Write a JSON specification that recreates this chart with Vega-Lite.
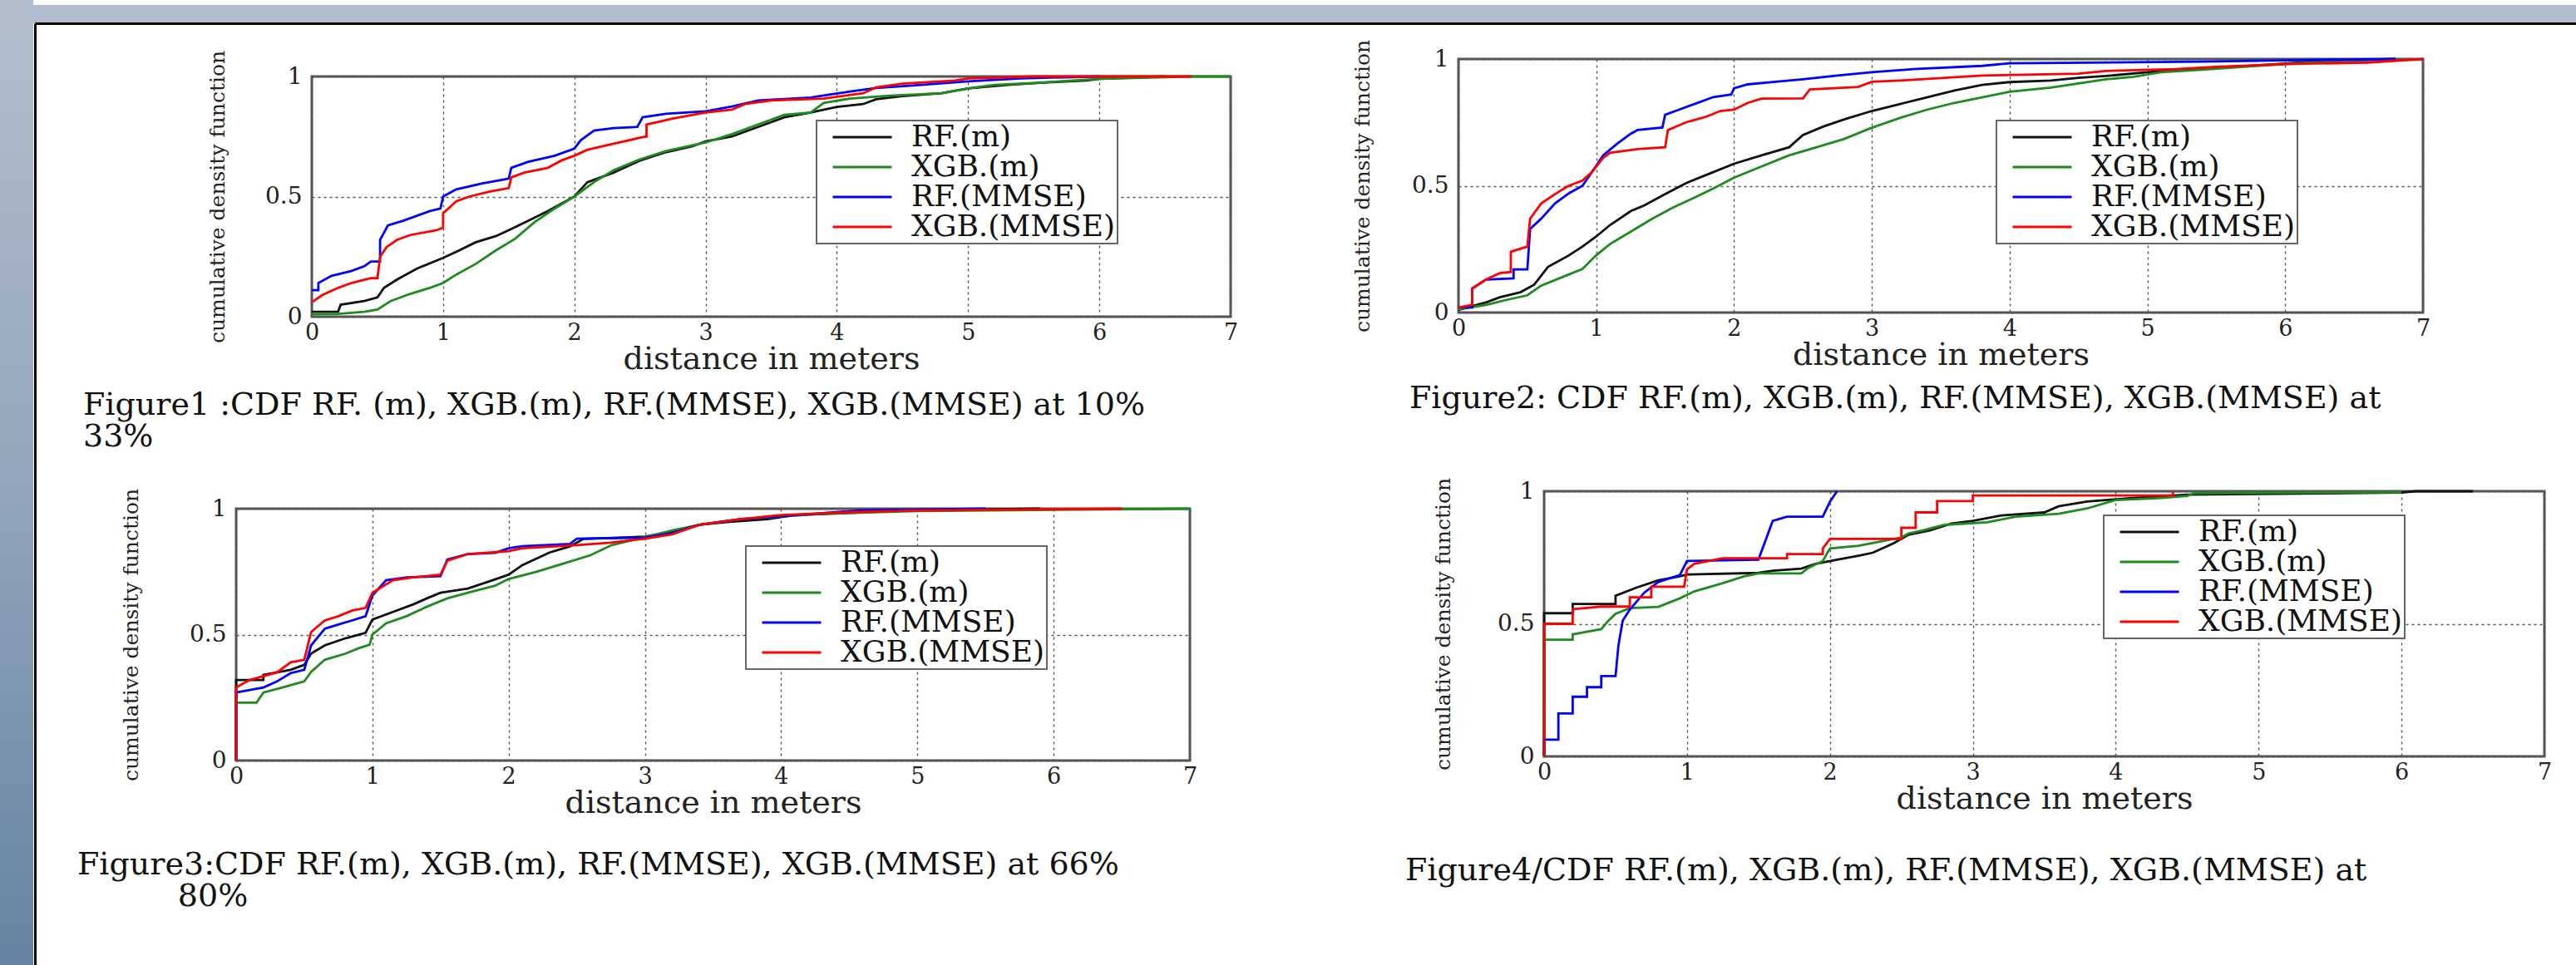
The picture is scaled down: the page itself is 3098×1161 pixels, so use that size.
{
  "$schema": "https://vega.github.io/schema/vega-lite/v6.json",
  "background": "white",
  "padding": 0,
  "datasets": {
    "p1": [
      {"series":"RF.(m)","x":0,"y":0.02},{"series":"RF.(m)","x":0.2,"y":0.02},{"series":"RF.(m)","x":0.22,"y":0.05},{"series":"RF.(m)","x":0.4,"y":0.065},{"series":"RF.(m)","x":0.5,"y":0.08},{"series":"RF.(m)","x":0.55,"y":0.12},{"series":"RF.(m)","x":0.65,"y":0.155},{"series":"RF.(m)","x":0.8,"y":0.2},{"series":"RF.(m)","x":1.0,"y":0.245},{"series":"RF.(m)","x":1.1,"y":0.27},{"series":"RF.(m)","x":1.25,"y":0.31},{"series":"RF.(m)","x":1.4,"y":0.335},{"series":"RF.(m)","x":1.5,"y":0.36},{"series":"RF.(m)","x":1.65,"y":0.4},{"series":"RF.(m)","x":1.8,"y":0.44},{"series":"RF.(m)","x":2.0,"y":0.5},{"series":"RF.(m)","x":2.1,"y":0.56},{"series":"RF.(m)","x":2.3,"y":0.6},{"series":"RF.(m)","x":2.5,"y":0.65},{"series":"RF.(m)","x":2.7,"y":0.685},{"series":"RF.(m)","x":2.9,"y":0.71},{"series":"RF.(m)","x":3.0,"y":0.73},{"series":"RF.(m)","x":3.2,"y":0.75},{"series":"RF.(m)","x":3.4,"y":0.79},{"series":"RF.(m)","x":3.6,"y":0.83},{"series":"RF.(m)","x":3.8,"y":0.85},{"series":"RF.(m)","x":4.0,"y":0.873},{"series":"RF.(m)","x":4.2,"y":0.885},{"series":"RF.(m)","x":4.3,"y":0.905},{"series":"RF.(m)","x":4.5,"y":0.918},{"series":"RF.(m)","x":4.8,"y":0.93},{"series":"RF.(m)","x":5.0,"y":0.95},{"series":"RF.(m)","x":5.3,"y":0.965},{"series":"RF.(m)","x":5.6,"y":0.975},{"series":"RF.(m)","x":5.9,"y":0.983},{"series":"RF.(m)","x":6.0,"y":0.99},{"series":"RF.(m)","x":6.5,"y":1.0},
      {"series":"XGB.(m)","x":0,"y":0.01},{"series":"XGB.(m)","x":0.2,"y":0.012},{"series":"XGB.(m)","x":0.4,"y":0.02},{"series":"XGB.(m)","x":0.5,"y":0.03},{"series":"XGB.(m)","x":0.6,"y":0.065},{"series":"XGB.(m)","x":0.75,"y":0.095},{"series":"XGB.(m)","x":0.9,"y":0.12},{"series":"XGB.(m)","x":1.0,"y":0.14},{"series":"XGB.(m)","x":1.1,"y":0.175},{"series":"XGB.(m)","x":1.25,"y":0.22},{"series":"XGB.(m)","x":1.4,"y":0.275},{"series":"XGB.(m)","x":1.55,"y":0.325},{"series":"XGB.(m)","x":1.7,"y":0.395},{"series":"XGB.(m)","x":1.85,"y":0.45},{"series":"XGB.(m)","x":2.0,"y":0.5},{"series":"XGB.(m)","x":2.15,"y":0.56},{"series":"XGB.(m)","x":2.3,"y":0.61},{"series":"XGB.(m)","x":2.5,"y":0.655},{"series":"XGB.(m)","x":2.7,"y":0.69},{"series":"XGB.(m)","x":3.0,"y":0.725},{"series":"XGB.(m)","x":3.2,"y":0.76},{"series":"XGB.(m)","x":3.4,"y":0.8},{"series":"XGB.(m)","x":3.6,"y":0.84},{"series":"XGB.(m)","x":3.8,"y":0.85},{"series":"XGB.(m)","x":3.9,"y":0.89},{"series":"XGB.(m)","x":4.1,"y":0.908},{"series":"XGB.(m)","x":4.4,"y":0.92},{"series":"XGB.(m)","x":4.8,"y":0.93},{"series":"XGB.(m)","x":5.0,"y":0.95},{"series":"XGB.(m)","x":5.2,"y":0.965},{"series":"XGB.(m)","x":5.5,"y":0.973},{"series":"XGB.(m)","x":5.8,"y":0.983},{"series":"XGB.(m)","x":6.0,"y":0.99},{"series":"XGB.(m)","x":6.7,"y":1.0},{"series":"XGB.(m)","x":7.0,"y":1.0},
      {"series":"RF.(MMSE)","x":0,"y":0.11},{"series":"RF.(MMSE)","x":0.05,"y":0.11},{"series":"RF.(MMSE)","x":0.05,"y":0.14},{"series":"RF.(MMSE)","x":0.15,"y":0.17},{"series":"RF.(MMSE)","x":0.3,"y":0.19},{"series":"RF.(MMSE)","x":0.4,"y":0.21},{"series":"RF.(MMSE)","x":0.45,"y":0.23},{"series":"RF.(MMSE)","x":0.52,"y":0.23},{"series":"RF.(MMSE)","x":0.52,"y":0.32},{"series":"RF.(MMSE)","x":0.58,"y":0.38},{"series":"RF.(MMSE)","x":0.7,"y":0.4},{"series":"RF.(MMSE)","x":0.8,"y":0.42},{"series":"RF.(MMSE)","x":0.9,"y":0.44},{"series":"RF.(MMSE)","x":0.98,"y":0.45},{"series":"RF.(MMSE)","x":1.0,"y":0.5},{"series":"RF.(MMSE)","x":1.1,"y":0.53},{"series":"RF.(MMSE)","x":1.3,"y":0.555},{"series":"RF.(MMSE)","x":1.45,"y":0.57},{"series":"RF.(MMSE)","x":1.5,"y":0.575},{"series":"RF.(MMSE)","x":1.52,"y":0.62},{"series":"RF.(MMSE)","x":1.65,"y":0.645},{"series":"RF.(MMSE)","x":1.85,"y":0.67},{"series":"RF.(MMSE)","x":2.0,"y":0.7},{"series":"RF.(MMSE)","x":2.05,"y":0.735},{"series":"RF.(MMSE)","x":2.15,"y":0.775},{"series":"RF.(MMSE)","x":2.3,"y":0.785},{"series":"RF.(MMSE)","x":2.48,"y":0.79},{"series":"RF.(MMSE)","x":2.52,"y":0.83},{"series":"RF.(MMSE)","x":2.7,"y":0.845},{"series":"RF.(MMSE)","x":3.0,"y":0.855},{"series":"RF.(MMSE)","x":3.2,"y":0.875},{"series":"RF.(MMSE)","x":3.4,"y":0.9},{"series":"RF.(MMSE)","x":3.8,"y":0.912},{"series":"RF.(MMSE)","x":3.95,"y":0.925},{"series":"RF.(MMSE)","x":4.1,"y":0.937},{"series":"RF.(MMSE)","x":4.3,"y":0.952},{"series":"RF.(MMSE)","x":4.6,"y":0.963},{"series":"RF.(MMSE)","x":5.0,"y":0.98},{"series":"RF.(MMSE)","x":5.4,"y":0.992},{"series":"RF.(MMSE)","x":6.0,"y":1.0},
      {"series":"XGB.(MMSE)","x":0,"y":0.06},{"series":"XGB.(MMSE)","x":0.08,"y":0.09},{"series":"XGB.(MMSE)","x":0.2,"y":0.12},{"series":"XGB.(MMSE)","x":0.3,"y":0.14},{"series":"XGB.(MMSE)","x":0.45,"y":0.16},{"series":"XGB.(MMSE)","x":0.5,"y":0.16},{"series":"XGB.(MMSE)","x":0.52,"y":0.25},{"series":"XGB.(MMSE)","x":0.57,"y":0.29},{"series":"XGB.(MMSE)","x":0.65,"y":0.32},{"series":"XGB.(MMSE)","x":0.75,"y":0.34},{"series":"XGB.(MMSE)","x":0.95,"y":0.36},{"series":"XGB.(MMSE)","x":1.0,"y":0.37},{"series":"XGB.(MMSE)","x":1.0,"y":0.43},{"series":"XGB.(MMSE)","x":1.1,"y":0.48},{"series":"XGB.(MMSE)","x":1.2,"y":0.5},{"series":"XGB.(MMSE)","x":1.35,"y":0.52},{"series":"XGB.(MMSE)","x":1.5,"y":0.535},{"series":"XGB.(MMSE)","x":1.52,"y":0.58},{"series":"XGB.(MMSE)","x":1.62,"y":0.6},{"series":"XGB.(MMSE)","x":1.8,"y":0.62},{"series":"XGB.(MMSE)","x":1.9,"y":0.65},{"series":"XGB.(MMSE)","x":2.0,"y":0.67},{"series":"XGB.(MMSE)","x":2.1,"y":0.695},{"series":"XGB.(MMSE)","x":2.3,"y":0.72},{"series":"XGB.(MMSE)","x":2.5,"y":0.745},{"series":"XGB.(MMSE)","x":2.55,"y":0.75},{"series":"XGB.(MMSE)","x":2.55,"y":0.8},{"series":"XGB.(MMSE)","x":2.75,"y":0.825},{"series":"XGB.(MMSE)","x":3.0,"y":0.85},{"series":"XGB.(MMSE)","x":3.2,"y":0.862},{"series":"XGB.(MMSE)","x":3.3,"y":0.885},{"series":"XGB.(MMSE)","x":3.5,"y":0.9},{"series":"XGB.(MMSE)","x":3.9,"y":0.908},{"series":"XGB.(MMSE)","x":4.2,"y":0.93},{"series":"XGB.(MMSE)","x":4.3,"y":0.955},{"series":"XGB.(MMSE)","x":4.5,"y":0.97},{"series":"XGB.(MMSE)","x":4.9,"y":0.983},{"series":"XGB.(MMSE)","x":5.0,"y":0.992},{"series":"XGB.(MMSE)","x":5.5,"y":1.0},{"series":"XGB.(MMSE)","x":6.7,"y":1.0}
    ],
    "p2": [
      {"series":"RF.(m)","x":0,"y":0.01},{"series":"RF.(m)","x":0.2,"y":0.04},{"series":"RF.(m)","x":0.3,"y":0.06},{"series":"RF.(m)","x":0.45,"y":0.08},{"series":"RF.(m)","x":0.55,"y":0.11},{"series":"RF.(m)","x":0.65,"y":0.18},{"series":"RF.(m)","x":0.8,"y":0.225},{"series":"RF.(m)","x":0.9,"y":0.26},{"series":"RF.(m)","x":1.0,"y":0.3},{"series":"RF.(m)","x":1.1,"y":0.345},{"series":"RF.(m)","x":1.25,"y":0.4},{"series":"RF.(m)","x":1.35,"y":0.423},{"series":"RF.(m)","x":1.5,"y":0.467},{"series":"RF.(m)","x":1.65,"y":0.51},{"series":"RF.(m)","x":1.8,"y":0.543},{"series":"RF.(m)","x":2.0,"y":0.587},{"series":"RF.(m)","x":2.2,"y":0.62},{"series":"RF.(m)","x":2.4,"y":0.652},{"series":"RF.(m)","x":2.5,"y":0.7},{"series":"RF.(m)","x":2.65,"y":0.734},{"series":"RF.(m)","x":2.8,"y":0.762},{"series":"RF.(m)","x":3.0,"y":0.795},{"series":"RF.(m)","x":3.2,"y":0.822},{"series":"RF.(m)","x":3.4,"y":0.849},{"series":"RF.(m)","x":3.6,"y":0.876},{"series":"RF.(m)","x":3.8,"y":0.898},{"series":"RF.(m)","x":4.0,"y":0.909},{"series":"RF.(m)","x":4.3,"y":0.915},{"series":"RF.(m)","x":4.5,"y":0.926},{"series":"RF.(m)","x":4.7,"y":0.933},{"series":"RF.(m)","x":5.0,"y":0.948},{"series":"RF.(m)","x":5.3,"y":0.96},{"series":"RF.(m)","x":5.7,"y":0.972},{"series":"RF.(m)","x":6.0,"y":0.982},{"series":"RF.(m)","x":6.2,"y":0.99},{"series":"RF.(m)","x":6.8,"y":1.0},
      {"series":"XGB.(m)","x":0,"y":0.013},{"series":"XGB.(m)","x":0.2,"y":0.03},{"series":"XGB.(m)","x":0.35,"y":0.05},{"series":"XGB.(m)","x":0.5,"y":0.068},{"series":"XGB.(m)","x":0.6,"y":0.106},{"series":"XGB.(m)","x":0.75,"y":0.139},{"series":"XGB.(m)","x":0.9,"y":0.172},{"series":"XGB.(m)","x":1.0,"y":0.226},{"series":"XGB.(m)","x":1.1,"y":0.27},{"series":"XGB.(m)","x":1.25,"y":0.319},{"series":"XGB.(m)","x":1.4,"y":0.368},{"series":"XGB.(m)","x":1.55,"y":0.412},{"series":"XGB.(m)","x":1.7,"y":0.45},{"series":"XGB.(m)","x":1.85,"y":0.489},{"series":"XGB.(m)","x":2.0,"y":0.532},{"series":"XGB.(m)","x":2.2,"y":0.576},{"series":"XGB.(m)","x":2.4,"y":0.62},{"series":"XGB.(m)","x":2.6,"y":0.652},{"series":"XGB.(m)","x":2.8,"y":0.685},{"series":"XGB.(m)","x":3.0,"y":0.729},{"series":"XGB.(m)","x":3.2,"y":0.767},{"series":"XGB.(m)","x":3.4,"y":0.8},{"series":"XGB.(m)","x":3.6,"y":0.827},{"series":"XGB.(m)","x":3.8,"y":0.849},{"series":"XGB.(m)","x":4.0,"y":0.871},{"series":"XGB.(m)","x":4.3,"y":0.887},{"series":"XGB.(m)","x":4.5,"y":0.904},{"series":"XGB.(m)","x":4.7,"y":0.92},{"series":"XGB.(m)","x":4.9,"y":0.93},{"series":"XGB.(m)","x":5.1,"y":0.948},{"series":"XGB.(m)","x":5.4,"y":0.958},{"series":"XGB.(m)","x":5.7,"y":0.969},{"series":"XGB.(m)","x":6.0,"y":0.98},{"series":"XGB.(m)","x":6.3,"y":0.99},{"series":"XGB.(m)","x":6.8,"y":1.0},
      {"series":"RF.(MMSE)","x":0,"y":0.02},{"series":"RF.(MMSE)","x":0.1,"y":0.02},{"series":"RF.(MMSE)","x":0.1,"y":0.095},{"series":"RF.(MMSE)","x":0.2,"y":0.13},{"series":"RF.(MMSE)","x":0.4,"y":0.135},{"series":"RF.(MMSE)","x":0.4,"y":0.17},{"series":"RF.(MMSE)","x":0.5,"y":0.17},{"series":"RF.(MMSE)","x":0.52,"y":0.33},{"series":"RF.(MMSE)","x":0.6,"y":0.37},{"series":"RF.(MMSE)","x":0.7,"y":0.43},{"series":"RF.(MMSE)","x":0.8,"y":0.47},{"series":"RF.(MMSE)","x":0.9,"y":0.5},{"series":"RF.(MMSE)","x":0.97,"y":0.555},{"series":"RF.(MMSE)","x":1.05,"y":0.62},{"series":"RF.(MMSE)","x":1.15,"y":0.665},{"series":"RF.(MMSE)","x":1.25,"y":0.705},{"series":"RF.(MMSE)","x":1.3,"y":0.72},{"series":"RF.(MMSE)","x":1.48,"y":0.73},{"series":"RF.(MMSE)","x":1.5,"y":0.78},{"series":"RF.(MMSE)","x":1.6,"y":0.8},{"series":"RF.(MMSE)","x":1.75,"y":0.83},{"series":"RF.(MMSE)","x":1.85,"y":0.85},{"series":"RF.(MMSE)","x":1.98,"y":0.86},{"series":"RF.(MMSE)","x":2.0,"y":0.885},{"series":"RF.(MMSE)","x":2.1,"y":0.9},{"series":"RF.(MMSE)","x":2.3,"y":0.91},{"series":"RF.(MMSE)","x":2.5,"y":0.92},{"series":"RF.(MMSE)","x":2.75,"y":0.935},{"series":"RF.(MMSE)","x":3.0,"y":0.948},{"series":"RF.(MMSE)","x":3.3,"y":0.96},{"series":"RF.(MMSE)","x":3.8,"y":0.973},{"series":"RF.(MMSE)","x":4.0,"y":0.983},{"series":"RF.(MMSE)","x":5.4,"y":0.99},{"series":"RF.(MMSE)","x":6.0,"y":0.995},{"series":"RF.(MMSE)","x":6.8,"y":1.0},
      {"series":"XGB.(MMSE)","x":0,"y":0.02},{"series":"XGB.(MMSE)","x":0.1,"y":0.03},{"series":"XGB.(MMSE)","x":0.1,"y":0.095},{"series":"XGB.(MMSE)","x":0.2,"y":0.13},{"series":"XGB.(MMSE)","x":0.3,"y":0.155},{"series":"XGB.(MMSE)","x":0.38,"y":0.16},{"series":"XGB.(MMSE)","x":0.38,"y":0.24},{"series":"XGB.(MMSE)","x":0.5,"y":0.26},{"series":"XGB.(MMSE)","x":0.52,"y":0.37},{"series":"XGB.(MMSE)","x":0.6,"y":0.43},{"series":"XGB.(MMSE)","x":0.7,"y":0.467},{"series":"XGB.(MMSE)","x":0.8,"y":0.5},{"series":"XGB.(MMSE)","x":0.9,"y":0.52},{"series":"XGB.(MMSE)","x":0.97,"y":0.555},{"series":"XGB.(MMSE)","x":1.05,"y":0.61},{"series":"XGB.(MMSE)","x":1.1,"y":0.63},{"series":"XGB.(MMSE)","x":1.3,"y":0.645},{"series":"XGB.(MMSE)","x":1.5,"y":0.652},{"series":"XGB.(MMSE)","x":1.52,"y":0.72},{"series":"XGB.(MMSE)","x":1.65,"y":0.75},{"series":"XGB.(MMSE)","x":1.8,"y":0.773},{"series":"XGB.(MMSE)","x":1.9,"y":0.795},{"series":"XGB.(MMSE)","x":2.0,"y":0.8},{"series":"XGB.(MMSE)","x":2.1,"y":0.827},{"series":"XGB.(MMSE)","x":2.2,"y":0.844},{"series":"XGB.(MMSE)","x":2.5,"y":0.845},{"series":"XGB.(MMSE)","x":2.55,"y":0.88},{"series":"XGB.(MMSE)","x":2.9,"y":0.89},{"series":"XGB.(MMSE)","x":3.0,"y":0.91},{"series":"XGB.(MMSE)","x":3.2,"y":0.915},{"series":"XGB.(MMSE)","x":3.8,"y":0.935},{"series":"XGB.(MMSE)","x":4.5,"y":0.942},{"series":"XGB.(MMSE)","x":4.7,"y":0.953},{"series":"XGB.(MMSE)","x":5.2,"y":0.96},{"series":"XGB.(MMSE)","x":5.5,"y":0.969},{"series":"XGB.(MMSE)","x":6.0,"y":0.98},{"series":"XGB.(MMSE)","x":6.6,"y":0.986},{"series":"XGB.(MMSE)","x":7.0,"y":1.0}
    ],
    "p3": [
      {"series":"RF.(m)","x":0,"y":0},{"series":"RF.(m)","x":0,"y":0.32},{"series":"RF.(m)","x":0.2,"y":0.32},{"series":"RF.(m)","x":0.2,"y":0.34},{"series":"RF.(m)","x":0.4,"y":0.36},{"series":"RF.(m)","x":0.5,"y":0.38},{"series":"RF.(m)","x":0.55,"y":0.425},{"series":"RF.(m)","x":0.65,"y":0.457},{"series":"RF.(m)","x":0.8,"y":0.485},{"series":"RF.(m)","x":0.95,"y":0.507},{"series":"RF.(m)","x":1.0,"y":0.56},{"series":"RF.(m)","x":1.15,"y":0.59},{"series":"RF.(m)","x":1.3,"y":0.62},{"series":"RF.(m)","x":1.4,"y":0.644},{"series":"RF.(m)","x":1.5,"y":0.666},{"series":"RF.(m)","x":1.7,"y":0.683},{"series":"RF.(m)","x":1.85,"y":0.71},{"series":"RF.(m)","x":2.0,"y":0.738},{"series":"RF.(m)","x":2.1,"y":0.776},{"series":"RF.(m)","x":2.3,"y":0.826},{"series":"RF.(m)","x":2.45,"y":0.85},{"series":"RF.(m)","x":2.55,"y":0.88},{"series":"RF.(m)","x":3.0,"y":0.889},{"series":"RF.(m)","x":3.2,"y":0.909},{"series":"RF.(m)","x":3.4,"y":0.936},{"series":"RF.(m)","x":3.6,"y":0.947},{"series":"RF.(m)","x":3.9,"y":0.958},{"series":"RF.(m)","x":4.1,"y":0.975},{"series":"RF.(m)","x":4.5,"y":0.983},{"series":"RF.(m)","x":4.8,"y":0.991},{"series":"RF.(m)","x":5.9,"y":1.0},
      {"series":"XGB.(m)","x":0,"y":0},{"series":"XGB.(m)","x":0,"y":0.23},{"series":"XGB.(m)","x":0.15,"y":0.23},{"series":"XGB.(m)","x":0.2,"y":0.27},{"series":"XGB.(m)","x":0.35,"y":0.292},{"series":"XGB.(m)","x":0.5,"y":0.314},{"series":"XGB.(m)","x":0.55,"y":0.352},{"series":"XGB.(m)","x":0.65,"y":0.4},{"series":"XGB.(m)","x":0.8,"y":0.424},{"series":"XGB.(m)","x":0.9,"y":0.446},{"series":"XGB.(m)","x":0.98,"y":0.46},{"series":"XGB.(m)","x":1.0,"y":0.5},{"series":"XGB.(m)","x":1.1,"y":0.545},{"series":"XGB.(m)","x":1.25,"y":0.573},{"series":"XGB.(m)","x":1.4,"y":0.611},{"series":"XGB.(m)","x":1.55,"y":0.644},{"series":"XGB.(m)","x":1.7,"y":0.666},{"series":"XGB.(m)","x":1.9,"y":0.694},{"series":"XGB.(m)","x":2.0,"y":0.721},{"series":"XGB.(m)","x":2.2,"y":0.749},{"series":"XGB.(m)","x":2.4,"y":0.782},{"series":"XGB.(m)","x":2.6,"y":0.815},{"series":"XGB.(m)","x":2.75,"y":0.854},{"series":"XGB.(m)","x":3.0,"y":0.887},{"series":"XGB.(m)","x":3.2,"y":0.914},{"series":"XGB.(m)","x":3.4,"y":0.936},{"series":"XGB.(m)","x":3.7,"y":0.958},{"series":"XGB.(m)","x":4.0,"y":0.969},{"series":"XGB.(m)","x":4.3,"y":0.98},{"series":"XGB.(m)","x":5.0,"y":0.991},{"series":"XGB.(m)","x":7.0,"y":1.0},
      {"series":"RF.(MMSE)","x":0,"y":0},{"series":"RF.(MMSE)","x":0,"y":0.27},{"series":"RF.(MMSE)","x":0.2,"y":0.29},{"series":"RF.(MMSE)","x":0.3,"y":0.314},{"series":"RF.(MMSE)","x":0.4,"y":0.347},{"series":"RF.(MMSE)","x":0.5,"y":0.36},{"series":"RF.(MMSE)","x":0.55,"y":0.457},{"series":"RF.(MMSE)","x":0.65,"y":0.523},{"series":"RF.(MMSE)","x":0.75,"y":0.54},{"series":"RF.(MMSE)","x":0.85,"y":0.556},{"series":"RF.(MMSE)","x":0.95,"y":0.573},{"series":"RF.(MMSE)","x":1.0,"y":0.655},{"series":"RF.(MMSE)","x":1.1,"y":0.716},{"series":"RF.(MMSE)","x":1.25,"y":0.727},{"series":"RF.(MMSE)","x":1.5,"y":0.732},{"series":"RF.(MMSE)","x":1.55,"y":0.798},{"series":"RF.(MMSE)","x":1.7,"y":0.82},{"series":"RF.(MMSE)","x":1.9,"y":0.825},{"series":"RF.(MMSE)","x":2.0,"y":0.843},{"series":"RF.(MMSE)","x":2.1,"y":0.851},{"series":"RF.(MMSE)","x":2.45,"y":0.86},{"series":"RF.(MMSE)","x":2.5,"y":0.881},{"series":"RF.(MMSE)","x":3.0,"y":0.885},{"series":"RF.(MMSE)","x":3.2,"y":0.903},{"series":"RF.(MMSE)","x":3.4,"y":0.936},{"series":"RF.(MMSE)","x":3.7,"y":0.958},{"series":"RF.(MMSE)","x":4.0,"y":0.97},{"series":"RF.(MMSE)","x":4.6,"y":0.994},{"series":"RF.(MMSE)","x":5.5,"y":1.0},
      {"series":"XGB.(MMSE)","x":0,"y":0},{"series":"XGB.(MMSE)","x":0,"y":0.29},{"series":"XGB.(MMSE)","x":0.1,"y":0.32},{"series":"XGB.(MMSE)","x":0.3,"y":0.35},{"series":"XGB.(MMSE)","x":0.4,"y":0.39},{"series":"XGB.(MMSE)","x":0.5,"y":0.4},{"series":"XGB.(MMSE)","x":0.55,"y":0.51},{"series":"XGB.(MMSE)","x":0.65,"y":0.556},{"series":"XGB.(MMSE)","x":0.75,"y":0.573},{"series":"XGB.(MMSE)","x":0.85,"y":0.595},{"series":"XGB.(MMSE)","x":0.95,"y":0.606},{"series":"XGB.(MMSE)","x":1.0,"y":0.666},{"series":"XGB.(MMSE)","x":1.15,"y":0.716},{"series":"XGB.(MMSE)","x":1.3,"y":0.727},{"series":"XGB.(MMSE)","x":1.5,"y":0.738},{"series":"XGB.(MMSE)","x":1.55,"y":0.793},{"series":"XGB.(MMSE)","x":1.7,"y":0.82},{"series":"XGB.(MMSE)","x":2.0,"y":0.831},{"series":"XGB.(MMSE)","x":2.1,"y":0.843},{"series":"XGB.(MMSE)","x":2.5,"y":0.855},{"series":"XGB.(MMSE)","x":2.75,"y":0.865},{"series":"XGB.(MMSE)","x":3.0,"y":0.881},{"series":"XGB.(MMSE)","x":3.2,"y":0.898},{"series":"XGB.(MMSE)","x":3.4,"y":0.936},{"series":"XGB.(MMSE)","x":3.7,"y":0.958},{"series":"XGB.(MMSE)","x":4.0,"y":0.975},{"series":"XGB.(MMSE)","x":4.5,"y":0.986},{"series":"XGB.(MMSE)","x":5.0,"y":0.993},{"series":"XGB.(MMSE)","x":6.5,"y":1.0}
    ],
    "p4": [
      {"series":"RF.(m)","x":0,"y":0},{"series":"RF.(m)","x":0,"y":0.54},{"series":"RF.(m)","x":0.2,"y":0.54},{"series":"RF.(m)","x":0.2,"y":0.575},{"series":"RF.(m)","x":0.5,"y":0.575},{"series":"RF.(m)","x":0.5,"y":0.606},{"series":"RF.(m)","x":0.65,"y":0.637},{"series":"RF.(m)","x":0.8,"y":0.664},{"series":"RF.(m)","x":0.95,"y":0.679},{"series":"RF.(m)","x":1.0,"y":0.686},{"series":"RF.(m)","x":1.5,"y":0.692},{"series":"RF.(m)","x":1.6,"y":0.7},{"series":"RF.(m)","x":1.8,"y":0.708},{"series":"RF.(m)","x":1.9,"y":0.726},{"series":"RF.(m)","x":2.05,"y":0.742},{"series":"RF.(m)","x":2.2,"y":0.757},{"series":"RF.(m)","x":2.3,"y":0.768},{"series":"RF.(m)","x":2.45,"y":0.805},{"series":"RF.(m)","x":2.55,"y":0.836},{"series":"RF.(m)","x":2.7,"y":0.852},{"series":"RF.(m)","x":2.85,"y":0.878},{"series":"RF.(m)","x":3.0,"y":0.888},{"series":"RF.(m)","x":3.2,"y":0.909},{"series":"RF.(m)","x":3.5,"y":0.92},{"series":"RF.(m)","x":3.6,"y":0.943},{"series":"RF.(m)","x":3.8,"y":0.961},{"series":"RF.(m)","x":4.1,"y":0.974},{"series":"RF.(m)","x":4.5,"y":0.987},{"series":"RF.(m)","x":6.0,"y":0.995},{"series":"RF.(m)","x":6.1,"y":1.0},{"series":"RF.(m)","x":6.5,"y":1.0},
      {"series":"XGB.(m)","x":0,"y":0},{"series":"XGB.(m)","x":0,"y":0.44},{"series":"XGB.(m)","x":0.2,"y":0.44},{"series":"XGB.(m)","x":0.2,"y":0.46},{"series":"XGB.(m)","x":0.4,"y":0.48},{"series":"XGB.(m)","x":0.45,"y":0.512},{"series":"XGB.(m)","x":0.5,"y":0.538},{"series":"XGB.(m)","x":0.6,"y":0.559},{"series":"XGB.(m)","x":0.8,"y":0.564},{"series":"XGB.(m)","x":0.95,"y":0.596},{"series":"XGB.(m)","x":1.05,"y":0.622},{"series":"XGB.(m)","x":1.25,"y":0.653},{"series":"XGB.(m)","x":1.4,"y":0.679},{"series":"XGB.(m)","x":1.5,"y":0.69},{"series":"XGB.(m)","x":1.8,"y":0.69},{"series":"XGB.(m)","x":1.85,"y":0.711},{"series":"XGB.(m)","x":1.95,"y":0.737},{"series":"XGB.(m)","x":2.0,"y":0.784},{"series":"XGB.(m)","x":2.2,"y":0.794},{"series":"XGB.(m)","x":2.35,"y":0.81},{"series":"XGB.(m)","x":2.5,"y":0.826},{"series":"XGB.(m)","x":2.55,"y":0.841},{"series":"XGB.(m)","x":2.65,"y":0.852},{"series":"XGB.(m)","x":2.8,"y":0.873},{"series":"XGB.(m)","x":3.1,"y":0.883},{"series":"XGB.(m)","x":3.3,"y":0.904},{"series":"XGB.(m)","x":3.6,"y":0.915},{"series":"XGB.(m)","x":3.8,"y":0.935},{"series":"XGB.(m)","x":4.0,"y":0.967},{"series":"XGB.(m)","x":4.3,"y":0.974},{"series":"XGB.(m)","x":4.5,"y":0.982},{"series":"XGB.(m)","x":4.55,"y":0.993},{"series":"XGB.(m)","x":6.0,"y":0.996},
      {"series":"RF.(MMSE)","x":0,"y":0},{"series":"RF.(MMSE)","x":0,"y":0.063},{"series":"RF.(MMSE)","x":0.1,"y":0.063},{"series":"RF.(MMSE)","x":0.1,"y":0.162},{"series":"RF.(MMSE)","x":0.2,"y":0.162},{"series":"RF.(MMSE)","x":0.2,"y":0.225},{"series":"RF.(MMSE)","x":0.3,"y":0.225},{"series":"RF.(MMSE)","x":0.3,"y":0.261},{"series":"RF.(MMSE)","x":0.4,"y":0.261},{"series":"RF.(MMSE)","x":0.4,"y":0.303},{"series":"RF.(MMSE)","x":0.5,"y":0.303},{"series":"RF.(MMSE)","x":0.52,"y":0.418},{"series":"RF.(MMSE)","x":0.55,"y":0.512},{"series":"RF.(MMSE)","x":0.6,"y":0.554},{"series":"RF.(MMSE)","x":0.7,"y":0.617},{"series":"RF.(MMSE)","x":0.8,"y":0.658},{"series":"RF.(MMSE)","x":0.95,"y":0.684},{"series":"RF.(MMSE)","x":1.0,"y":0.737},{"series":"RF.(MMSE)","x":1.5,"y":0.742},{"series":"RF.(MMSE)","x":1.55,"y":0.815},{"series":"RF.(MMSE)","x":1.6,"y":0.888},{"series":"RF.(MMSE)","x":1.7,"y":0.904},{"series":"RF.(MMSE)","x":1.95,"y":0.904},{"series":"RF.(MMSE)","x":2.0,"y":0.96},{"series":"RF.(MMSE)","x":2.05,"y":1.0},
      {"series":"XGB.(MMSE)","x":0,"y":0},{"series":"XGB.(MMSE)","x":0,"y":0.5},{"series":"XGB.(MMSE)","x":0.2,"y":0.5},{"series":"XGB.(MMSE)","x":0.2,"y":0.555},{"series":"XGB.(MMSE)","x":0.4,"y":0.565},{"series":"XGB.(MMSE)","x":0.6,"y":0.565},{"series":"XGB.(MMSE)","x":0.6,"y":0.6},{"series":"XGB.(MMSE)","x":0.75,"y":0.6},{"series":"XGB.(MMSE)","x":0.75,"y":0.64},{"series":"XGB.(MMSE)","x":0.98,"y":0.64},{"series":"XGB.(MMSE)","x":1.0,"y":0.705},{"series":"XGB.(MMSE)","x":1.05,"y":0.726},{"series":"XGB.(MMSE)","x":1.25,"y":0.747},{"series":"XGB.(MMSE)","x":1.7,"y":0.747},{"series":"XGB.(MMSE)","x":1.7,"y":0.763},{"series":"XGB.(MMSE)","x":1.95,"y":0.763},{"series":"XGB.(MMSE)","x":1.95,"y":0.784},{"series":"XGB.(MMSE)","x":2.0,"y":0.82},{"series":"XGB.(MMSE)","x":2.5,"y":0.82},{"series":"XGB.(MMSE)","x":2.5,"y":0.862},{"series":"XGB.(MMSE)","x":2.6,"y":0.862},{"series":"XGB.(MMSE)","x":2.6,"y":0.92},{"series":"XGB.(MMSE)","x":2.75,"y":0.92},{"series":"XGB.(MMSE)","x":2.75,"y":0.963},{"series":"XGB.(MMSE)","x":3.0,"y":0.963},{"series":"XGB.(MMSE)","x":3.0,"y":0.984},{"series":"XGB.(MMSE)","x":4.4,"y":0.984},{"series":"XGB.(MMSE)","x":4.4,"y":1.0}
    ]
  },
  "config": {
    "view": {"stroke": null},
    "font": "DejaVu Serif",
    "axis": {"labelFont": "DejaVu Serif", "labelColor": "#222222", "labelFlush": false, "labelOverlap": false, "titleFont": "DejaVu Serif", "titleFontWeight": "normal", "titleColor": "#222222", "domain": false, "ticks": false, "grid": true, "gridColor": "#555555", "gridDash": [3, 4], "gridWidth": 1.4, "gridOpacity": 1},
    "axisX": {"labelPadding": 6, "labelFontSize": 27, "titleFontSize": 38, "titlePadding": 0},
    "axisY": {"labelPadding": 12, "labelFontSize": 28, "titleFontSize": 25},
    "legend": {"symbolType": "stroke", "symbolSize": 5041, "symbolStrokeWidth": 3, "labelFont": "DejaVu Serif", "labelFontSize": 36, "labelColor": "#111111", "clipHeight": 36, "rowPadding": 0, "padding": 2, "strokeColor": "#666666", "strokeWidth": 2, "fillColor": "white", "labelOffset": 22, "symbolOffset": 16, "labelLimit": 1000}
  },
  "bounds": "flush",
  "spacing": 0,
  "resolve": {"scale": {"color": "independent"}, "legend": {"color": "independent"}},
  "hconcat": [
    {"width": 40, "height": 1161, "data": {"values": []}, "mark": "point",
     "view": {"stroke": null, "fill": {"gradient": "linear", "x1": 0, "y1": 0, "x2": 0, "y2": 1, "stops": [{"offset": 0, "color": "#b3bfcd"}, {"offset": 0.5, "color": "#93a6bb"}, {"offset": 1, "color": "#6583a2"}]}}},
    {"bounds": "flush", "spacing": 0,
     "resolve": {"scale": {"color": "independent"}, "legend": {"color": "independent"}},
     "vconcat": [
      {"width": 3058, "height": 6, "data": {"values": []}, "mark": "point"},
      {"width": 3058, "height": 22, "data": {"values": []}, "mark": "point", "view": {"stroke": null, "fill": "#b1bdcc"}},
      {"bounds": "flush", "spacing": 0,
       "resolve": {"scale": {"color": "independent"}, "legend": {"color": "independent"}},
       "hconcat": [
        {"bounds": "flush", "spacing": 0, "hconcat": [
          {"width": 2, "height": 1, "data": {"values": []}, "mark": "point"},
          {"width": 3056, "height": 1133, "data": {"values": []}, "mark": "point",
           "encoding": {
             "x": {"field": "x", "type": "quantitative", "scale": {"domain": [0, 1]}, "axis": {"orient": "top", "domain": true, "domainColor": "#000000", "domainWidth": 3, "ticks": false, "labels": false, "grid": false, "title": null}},
             "y": {"field": "y", "type": "quantitative", "scale": {"domain": [0, 1]}, "axis": {"orient": "left", "domain": true, "domainColor": "#000000", "domainWidth": 3, "ticks": false, "labels": false, "grid": false, "title": null}}
           }}
        ]},
        {"bounds": "flush", "spacing": 0,
         "resolve": {"scale": {"color": "independent"}, "legend": {"color": "independent"}},
         "vconcat": [
          {"width": 1, "height": 64, "data": {"values": []}, "mark": "point"},
          {"bounds": "flush", "spacing": 0,
           "resolve": {"scale": {"color": "independent"}, "legend": {"color": "independent"}},
           "hconcat": [
            {"width": 335, "height": 1, "data": {"values": []}, "mark": "point"},
            {"width": 1105, "height": 289, "data": {"name": "p1"},
             "view": {"stroke": "#555555", "strokeWidth": 3},
             "title": {"text": ["Figure1 :CDF RF. (m), XGB.(m), RF.(MMSE), XGB.(MMSE) at 10%", "33%"], "orient": "bottom", "anchor": "start", "frame": "group", "align": "left", "dx": -275, "offset": 18, "font": "DejaVu Serif", "fontSize": 38, "fontWeight": "normal", "color": "#111111", "lineHeight": 38},
             "mark": {"type": "line", "strokeWidth": 2.8},
             "encoding": {
               "x": {"field": "x", "type": "quantitative", "scale": {"domain": [0, 7], "nice": false, "zero": false}, "axis": {"title": "distance in meters", "values": [0,1,2,3,4,5,6,7], "format": "d"}},
               "y": {"field": "y", "type": "quantitative", "scale": {"domain": [0, 1], "nice": false}, "axis": {"title": "cumulative density function", "values": [0, 0.5, 1], "format": "~g", "titlePadding": 44}},
               "color": {"field": "series", "type": "nominal", "scale": {"domain": ["RF.(m)", "XGB.(m)", "RF.(MMSE)", "XGB.(MMSE)"], "range": ["#111111", "#1f8b1f", "#0000ff", "#ff0000"]}, "legend": {"title": null, "orient": "none", "legendX": 607, "legendY": 53}},
               "order": {"value": null}
             }}
          ]}
        ]},
        {"bounds": "flush", "spacing": 0,
         "resolve": {"scale": {"color": "independent"}, "legend": {"color": "independent"}},
         "vconcat": [
          {"width": 1, "height": 43, "data": {"values": []}, "mark": "point"},
          {"bounds": "flush", "spacing": 0,
           "resolve": {"scale": {"color": "independent"}, "legend": {"color": "independent"}},
           "hconcat": [
            {"width": 1714, "height": 1, "data": {"values": []}, "mark": "point"},
            {"width": 1160, "height": 305, "data": {"name": "p2"},
             "view": {"stroke": "#555555", "strokeWidth": 3},
             "title": {"text": "Figure2: CDF RF.(m), XGB.(m), RF.(MMSE), XGB.(MMSE) at", "orient": "bottom", "anchor": "start", "frame": "group", "align": "left", "dx": -59, "offset": 15, "font": "DejaVu Serif", "fontSize": 38, "fontWeight": "normal", "color": "#111111"},
             "mark": {"type": "line", "strokeWidth": 2.8},
             "encoding": {
               "x": {"field": "x", "type": "quantitative", "scale": {"domain": [0, 7], "nice": false, "zero": false}, "axis": {"title": "distance in meters", "values": [0,1,2,3,4,5,6,7], "format": "d"}},
               "y": {"field": "y", "type": "quantitative", "scale": {"domain": [0, 1], "nice": false}, "axis": {"title": "cumulative density function", "values": [0, 0.5, 1], "format": "~g", "titlePadding": 46}},
               "color": {"field": "series", "type": "nominal", "scale": {"domain": ["RF.(m)", "XGB.(m)", "RF.(MMSE)", "XGB.(MMSE)"], "range": ["#111111", "#1f8b1f", "#0000ff", "#ff0000"]}, "legend": {"title": null, "orient": "none", "legendX": 647, "legendY": 74}},
               "order": {"value": null}
             }}
          ]}
        ]},
        {"bounds": "flush", "spacing": 0,
         "resolve": {"scale": {"color": "independent"}, "legend": {"color": "independent"}},
         "vconcat": [
          {"width": 1, "height": 584, "data": {"values": []}, "mark": "point"},
          {"bounds": "flush", "spacing": 0,
           "resolve": {"scale": {"color": "independent"}, "legend": {"color": "independent"}},
           "hconcat": [
            {"width": 244, "height": 1, "data": {"values": []}, "mark": "point"},
            {"width": 1147, "height": 303, "data": {"name": "p3"},
             "view": {"stroke": "#555555", "strokeWidth": 3},
             "title": {"text": ["Figure3:CDF RF.(m), XGB.(m), RF.(MMSE), XGB.(MMSE) at 66%", "\u200b\u00a0\u00a0\u00a0\u00a0\u00a0\u00a0\u00a0\u00a0\u00a0\u00a080%"], "orient": "bottom", "anchor": "start", "frame": "group", "align": "left", "dx": -191, "offset": 37, "font": "DejaVu Serif", "fontSize": 38, "fontWeight": "normal", "color": "#111111", "lineHeight": 38},
             "mark": {"type": "line", "strokeWidth": 2.8},
             "encoding": {
               "x": {"field": "x", "type": "quantitative", "scale": {"domain": [0, 7], "nice": false, "zero": false}, "axis": {"title": "distance in meters", "values": [0,1,2,3,4,5,6,7], "format": "d"}},
               "y": {"field": "y", "type": "quantitative", "scale": {"domain": [0, 1], "nice": false}, "axis": {"title": "cumulative density function", "values": [0, 0.5, 1], "format": "~g", "titlePadding": 57}},
               "color": {"field": "series", "type": "nominal", "scale": {"domain": ["RF.(m)", "XGB.(m)", "RF.(MMSE)", "XGB.(MMSE)"], "range": ["#111111", "#1f8b1f", "#0000ff", "#ff0000"]}, "legend": {"title": null, "orient": "none", "legendX": 613, "legendY": 45}},
               "order": {"value": null}
             }}
          ]}
        ]},
        {"bounds": "flush", "spacing": 0,
         "resolve": {"scale": {"color": "independent"}, "legend": {"color": "independent"}},
         "vconcat": [
          {"width": 1, "height": 563, "data": {"values": []}, "mark": "point"},
          {"bounds": "flush", "spacing": 0,
           "resolve": {"scale": {"color": "independent"}, "legend": {"color": "independent"}},
           "hconcat": [
            {"width": 1817, "height": 1, "data": {"values": []}, "mark": "point"},
            {"width": 1203, "height": 319, "data": {"name": "p4"},
             "view": {"stroke": "#555555", "strokeWidth": 3},
             "title": {"text": "Figure4/CDF RF.(m), XGB.(m), RF.(MMSE), XGB.(MMSE) at", "orient": "bottom", "anchor": "start", "frame": "group", "align": "left", "dx": -167, "offset": 49, "font": "DejaVu Serif", "fontSize": 38, "fontWeight": "normal", "color": "#111111"},
             "mark": {"type": "line", "strokeWidth": 2.8},
             "encoding": {
               "x": {"field": "x", "type": "quantitative", "scale": {"domain": [0, 7], "nice": false, "zero": false}, "axis": {"title": "distance in meters", "values": [0,1,2,3,4,5,6,7], "format": "d"}},
               "y": {"field": "y", "type": "quantitative", "scale": {"domain": [0, 1], "nice": false}, "axis": {"title": "cumulative density function", "values": [0, 0.5, 1], "format": "~g", "titlePadding": 52}},
               "color": {"field": "series", "type": "nominal", "scale": {"domain": ["RF.(m)", "XGB.(m)", "RF.(MMSE)", "XGB.(MMSE)"], "range": ["#111111", "#1f8b1f", "#0000ff", "#ff0000"]}, "legend": {"title": null, "orient": "none", "legendX": 673, "legendY": 29}},
               "order": {"value": null}
             }}
          ]}
        ]}
      ]}
    ]}
  ]
}
